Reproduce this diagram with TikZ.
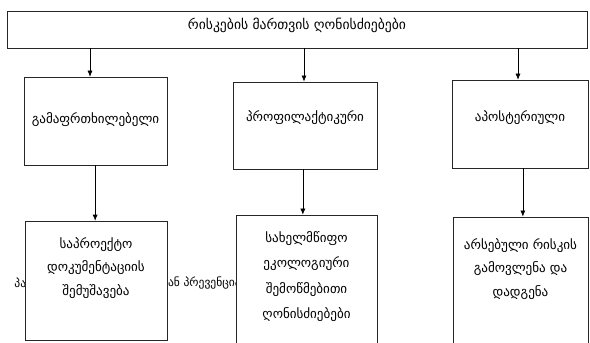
\documentclass[tikz,border=0pt]{standalone}
\usepackage{fontspec}
\newfontfamily\geofont{DejaVu Sans}
\usepackage{tikz}
\usetikzlibrary{arrows.meta}

\begin{document}
\begin{tikzpicture}[auto=center,>={Latex[length=6pt,width=5pt]},every node/.style={rectangle}]

\tikzstyle{frame}=[draw=black!85,line width=.6pt,fill=white,inner sep=0pt];
\tikzstyle{txt}=[font=\geofont\fontsize{13}{23}\selectfont,align=center,inner sep=0pt];
\tikzstyle{stray}=[font=\geofont\fontsize{11.5}{13}\selectfont,inner sep=0pt];

\clip (0,0) rectangle (20.65,-11.97);

% text line behind the lower boxes
\node[stray,anchor=west] (s1) at (0.5,-9.9) {პა};
\node[stray,anchor=west] (s2) at (5.55,-9.9) {თან პრევენცია};

\node[frame,minimum width=20.3cm,minimum height=1.3cm] (top) at (10.395,-1.03) {};
\node[txt,font=\geofont\fontsize{13.6}{16}\selectfont] (ttop) at (10.395,-0.88) {რისკების მართვის ღონისძიებები};

\node[frame,minimum width=5cm,minimum height=3.08cm] (b1) at (3.343,-4.235) {};
\node[frame,minimum width=5.04cm,minimum height=3.05cm] (b2) at (10.675,-4.39) {};
\node[frame,minimum width=4.76cm,minimum height=3.08cm] (b3) at (18.2,-4.34) {};
\node[txt] (t1) at (3.343,-4.2) {გამაფრთხილებელი};
\node[txt] (t2) at (10.675,-4.13) {პროფილაქტიკური};
\node[txt] (t3) at (18.2,-4.1) {აპოსტერიული};

\node[frame,minimum width=4.97cm,minimum height=4.18cm] (b4) at (3.36,-9.826) {};
\node[frame,minimum width=4.935cm,minimum height=4.73cm] (b5) at (10.7275,-9.89) {};
\node[frame,minimum width=4.725cm,minimum height=4.66cm] (b6) at (18.2175,-9.92) {};
\node[txt] (t4) at (3.36,-9.38) {საპროექტო\\დოკუმენტაციის\\შემუშავება};
\node[txt,font=\geofont\fontsize{13}{25.5}\selectfont] (t5) at (10.7275,-9.68) {სახელმწიფო\\ეკოლოგიური\\შემოწმებითი\\ღონისძიებები};
\node[txt] (t6) at (18.2175,-9.415) {არსებული რისკის\\გამოვლენა და\\დადგენა};

% arrow positions
\coordinate (a1) at (3.15,0);
\coordinate (a2) at (10.64,0);
\coordinate (a3) at (18.13,0);
\coordinate (a4) at (3.33,0);
\coordinate (a5) at (10.6,0);
\coordinate (a6) at (18.3,0);

\path[->] (top.south -| a1) edge[semithick] (b1.north -| a1);
\path[->] (top.south -| a2) edge[semithick] (b2.north -| a2);
\path[->] (top.south -| a3) edge[semithick] (b3.north -| a3);
\path[->] (b1.south -| a4) edge[semithick] (b4.north -| a4);
\path[->] (b2.south -| a5) edge[semithick] (b5.north -| a5);
\path[->] (b3.south -| a6) edge[semithick] (b6.north -| a6);

\end{tikzpicture}
\end{document}
